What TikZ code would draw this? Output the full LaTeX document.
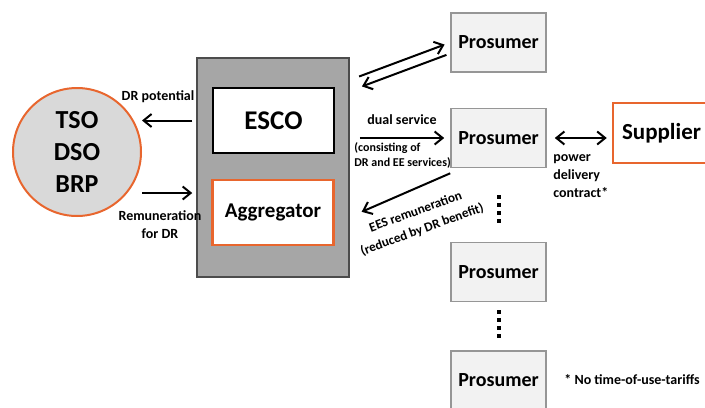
\documentclass[tikz,border=0pt]{standalone}
\usepackage{fontspec}
\setmainfont{Carlito}
\usetikzlibrary{arrows.meta}
\definecolor{korange}{RGB}{232,102,46}
\definecolor{kgray}{RGB}{166,166,166}
\definecolor{klight}{RGB}{217,217,217}
\definecolor{kpfill}{RGB}{242,242,242}
\definecolor{kpline}{RGB}{150,150,150}
\begin{document}
\begin{tikzpicture}[x=0.5pt,y=-0.5pt,font=\bfseries,
  arr/.style={-{Straight Barb[length=4pt,width=6.5pt]},line width=1pt},
  dbl/.style={{Straight Barb[length=4pt,width=6.5pt]}-{Straight Barb[length=4pt,width=6.5pt]},line width=1pt},
  prosbox/.style={draw=kpline,fill=kpfill,line width=0.8pt,minimum width=47.5pt,minimum height=29.5pt,font=\fontsize{10}{12}\bfseries},
  lbl/.style={font=\fontsize{7}{9}\bfseries,inner sep=0pt},
  lblsm/.style={font=\fontsize{6}{7.5}\bfseries,inner sep=0pt}]
\useasboundingbox (0,0) rectangle (705,407);
\pgfmathsetmacro{\kpx}{498.5}
\node[circle,draw=korange,fill=klight,line width=1pt,minimum size=64pt,align=center,font=\fontsize{13}{16}\bfseries] (tso) at (77,152) {TSO\\DSO\\BRP};
\node[draw=black!70,fill=kgray,line width=0.75pt,minimum width=76pt,minimum height=109.5pt] (hub) at (273,167.5) {};
\node[draw=black,fill=white,line width=1.25pt,minimum width=60.5pt,minimum height=32.5pt,font=\fontsize{13.5}{16}\bfseries] (esco) at (273.5,120.5) {ESCO};
\node[draw=korange,fill=white,line width=1.25pt,minimum width=60.5pt,minimum height=32.5pt,font=\fontsize{10.5}{13}\bfseries] (agg) at (273,212.5) {Aggregator};
\foreach \ky [count=\ki] in {42.5,138,272,380.5}{\node[prosbox] (p\ki) at (\kpx,\ky) {Prosumer};}
\node[draw=korange,fill=white,line width=1.25pt,minimum width=48.5pt,minimum height=30pt,font=\fontsize{11.5}{14}\bfseries] (sup) at (661.5,133) {Supplier};
% left side
\draw[arr,shorten <=2pt] (hub.west |- esco.west) -- (tso.east |- esco.west);
\draw[arr,shorten >=2pt] (tso.east |- 0,193) -- (hub.west |- 0,193);
\node[lbl] (drpot) at (158,97) {DR potential};
\node[lbl,align=center] (remun) at (160,225) {Remuneration\\for DR};
% right side
\draw[arr,shorten <=5pt,shorten >=3pt] (hub.east |- 0,80) -- (p1.west);
\draw[arr,shorten <=2pt,shorten >=6.5pt] ([yshift=-5.5pt]p1.west) -- (hub.east |- 0,91);
\draw[arr,shorten <=5pt,shorten >=3pt] (hub.east |- p2.west) -- (p2.west);
\draw[arr,shorten >=6.5pt] ([yshift=-2.5pt]p2.south west) -- (hub.east |- 0,217);
\node[lbl] (dual) at (402,120) {dual service};
\node[lblsm,align=left,anchor=west] (consist) at (354,155) {(consisting of\\DR and EE services)};
\node[lbl,font=\fontsize{6.6}{9.5}\bfseries,align=center,rotate=20] (ees) at (419,221) {EES remuneration\\(reduced by DR benefit)};
\foreach \kya in {195,310}{\draw[line width=2pt,dash pattern=on 2pt off 2pt] (499,\kya) -- ++(0,28);}
%\draw[gray,dashed] (p2.south) -- (p3.north);
\draw[dbl,shorten <=4pt,shorten >=2.5pt] (p2.east) -- (sup.west |- p2.east);
\node[lbl,align=left,anchor=north west] (pdc) at (553,154) {power\\delivery\\contract*};
\node[lbl,anchor=west] (note) at (564,380) {* No time-of-use-tariffs};
\end{tikzpicture}
\end{document}
